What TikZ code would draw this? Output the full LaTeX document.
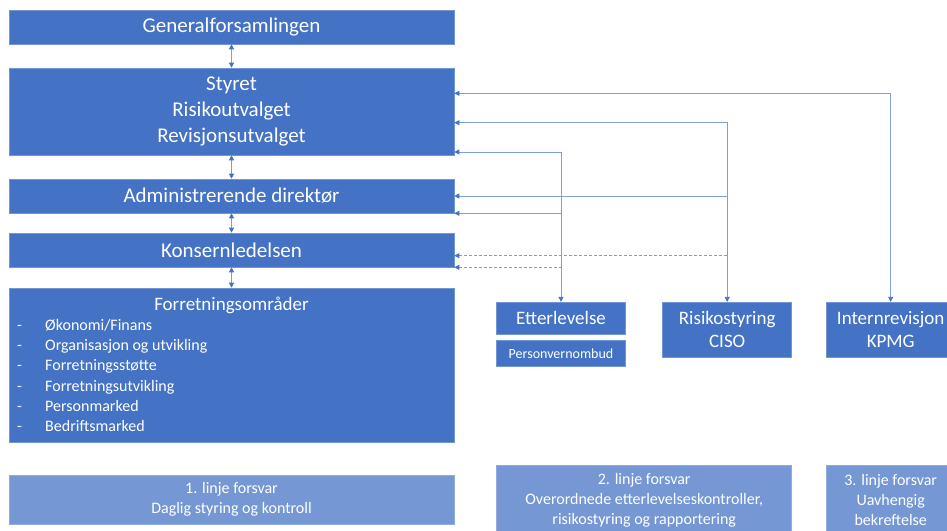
\documentclass[tikz,border=0pt]{standalone}
\usepackage{fontspec}
\setmainfont{Carlito}
\usepackage{tikz}
\usetikzlibrary{arrows.meta}
\definecolor{ofblue}{RGB}{68, 114, 196}
\definecolor{lightblue}{RGB}{117, 151, 211}
\definecolor{linkblue}{RGB}{125, 158, 216}

\begin{document}
\begin{tikzpicture}[x=1pt, y=-1pt,
  box/.style={fill=ofblue, draw=ofblue!75!white, line width=0.6pt, text=white, inner sep=0pt, align=center},
  defbox/.style={box, fill=lightblue, draw=lightblue!80!white},
  bigfont/.style={font=\fontsize{21}{26}\selectfont},
  midfont/.style={font=\fontsize{19}{22.5}\selectfont},
  listfont/.style={font=\fontsize{16}{20}\selectfont},
  item/.style={listfont, text=white, anchor=west, inner sep=0pt, text height=12pt, text depth=4pt},
  link/.style={draw=linkblue, line width=0.8pt, >={Triangle[length=5pt, width=5pt, color=ofblue]}},
]
  \useasboundingbox (0,0) rectangle (947,530);

  % Main chain
  \node[box, bigfont, minimum width=445pt, minimum height=34pt] (gen) at (231.5,27) {Generalforsamlingen};
  \node[box, bigfont, minimum width=445pt, minimum height=87pt] (styret) at (231.5,111.5) {Styret\\Risikoutvalget\\Revisjonsutvalget};
  \node[box, bigfont, minimum width=445pt, minimum height=34pt] (adm) at (231.5,196) {Administrerende direktør};
  \node[box, bigfont, minimum width=445pt, minimum height=34pt] (kons) at (231.5,250) {Konsernledelsen};
  \node[box, minimum width=445pt, minimum height=154pt] (forr) at (231.5,365) {};
  \node[midfont, text=white] (forrhead) at (231.5,305) {Forretningsområder};

  % Business areas
  \foreach \lab [count=\i from 0] in {Økonomi/Finans, Organisasjon og utvikling, Forretningsstøtte, Forretningsutvikling, Personmarked, Bedriftsmarked} {
    \node[item] (dash\i) at (17,326.7+20.1*\i) {-};
    \node[item] (area\i) at (45,326.7+20.1*\i) {\lab};
  }

  % Control functions
  \node[box, midfont, minimum width=128.6pt, minimum height=31.7pt] (etter) at (561,318) {Etterlevelse};
  \node[box, font=\fontsize{14}{17}\selectfont, minimum width=128.6pt, minimum height=26pt] (pvo) at (561,353.7) {Personvernombud};
  \node[box, midfont, minimum width=129pt, minimum height=55pt] (risiko) at (727.2,329.7) {Risikostyring\\CISO};
  \node[box, midfont, minimum width=129pt, minimum height=55pt] (intern) at (890.7,329.7) {Internrevisjon\\KPMG};

  % Lines of defence
  \node[defbox, listfont, minimum width=445pt, minimum height=49pt] (line1) at (231.5,499.5) {1. linje forsvar\\Daglig styring og kontroll};
  \node[defbox, listfont, minimum width=295pt, minimum height=70pt] (line2) at (644.2,500) {2. linje forsvar\\Overordnede etterlevelseskontroller,\\risikostyring og rapportering};
  \node[defbox, listfont, minimum width=129pt, minimum height=70pt] (line3) at (890.7,500) {3. linje forsvar\\Uavhengig\\bekreftelse};

  % Vertical links
  \draw[link, <->] (gen) -- (styret);
  \draw[link, <->] (styret) -- (adm);
  \draw[link, <->] (adm) -- (kons);
  \draw[link, <->] (kons) -- (forr);

  % Reporting lines
  \draw[link, <->] ([yshift=18.2pt]styret.east) -| (intern.north);
  \draw[link, <->] ([yshift=-11.2pt]styret.east) -| (risiko.north);
  \draw[link, <->] ([yshift=3.3pt]styret.south east) -| (etter.north);
  \draw[link, <-] (adm.east) -- (adm.east -| risiko.north);
  \draw[link, <-] (adm.south east) -- (adm.south east -| etter.north);
  \draw[link, <-, dash pattern=on 3pt off 2pt] ([yshift=-5.7pt]kons.east) -- ([yshift=-5.7pt]kons.east -| risiko.north);
  \draw[link, <-, dash pattern=on 3pt off 2pt] (kons.south east) -- (kons.south east -| etter.north);

\end{tikzpicture}
\end{document}
